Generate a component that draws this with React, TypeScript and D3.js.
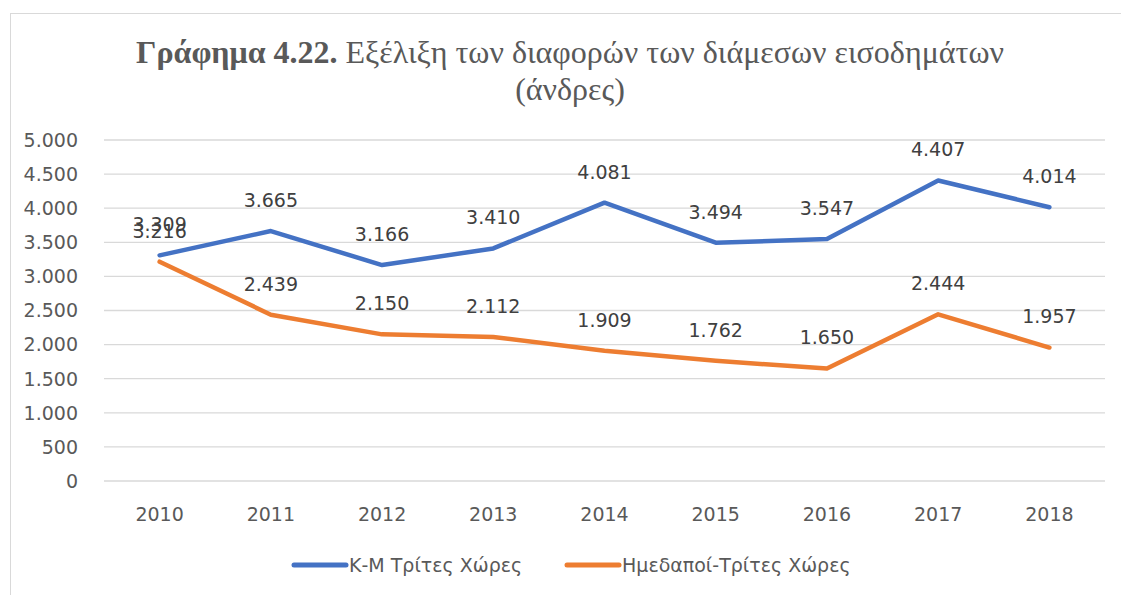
import React from "react";
import * as d3 from "d3";

const years = ["2010", "2011", "2012", "2013", "2014", "2015", "2016", "2017", "2018"];
const kmValues = [3309, 3665, 3166, 3410, 4081, 3494, 3547, 4407, 4014];
const domesticValues = [3216, 2439, 2150, 2112, 1909, 1762, 1650, 2444, 1957];
const yTicks = [0, 500, 1000, 1500, 2000, 2500, 3000, 3500, 4000, 4500, 5000];
const seriesNames = ["Κ-Μ Τρίτες Χώρες", "Ημεδαποί-Τρίτες Χώρες"];
const titleBold = "Γράφημα 4.22.";
const titleRest = " Εξέλιξη των διαφορών των διάμεσων εισοδημάτων";
const titleLine2 = "(άνδρες)";

const W = 1121;
const H = 595;
const plot = { left: 104, right: 1105, top: 140, bottom: 481 };
const colors = ["#4472C4", "#ED7D31"];
const textColor = "#595959";
const sans = "'DejaVu Sans', sans-serif";
const serif = "'Liberation Serif', 'Times New Roman', serif";

const fmt = (v: number) => d3.format(",")(v).replace(/,/g, ".");

export default function App() {
  const x = d3.scaleBand<string>().domain(years).range([plot.left, plot.right]);
  const y = d3.scaleLinear().domain([0, 5000]).range([plot.bottom, plot.top]);
  const cx = (d: string) => (x(d) as number) + x.bandwidth() / 2;
  const line = d3
    .line<number>()
    .x((_, i) => cx(years[i]))
    .y((v) => y(v));
  const series = [kmValues, domesticValues];

  return (
    <svg
      width={W}
      height={H}
      style={{ position: "absolute", left: 0, top: 0, background: "#fff" }}
    >
      <rect x={10.5} y={13.5} width={1300} height={800} fill="#fff" stroke="#D9D9D9" strokeWidth={1} />
      <text x={570} y={63} textAnchor="middle" fontFamily={serif} fontSize={32} fill={textColor}>
        <tspan fontWeight="bold">{titleBold}</tspan>
        <tspan>{titleRest}</tspan>
      </text>
      <text x={570} y={100} textAnchor="middle" fontFamily={serif} fontSize={32} fill={textColor}>
        {titleLine2}
      </text>
      {yTicks.map((t) => (
        <g key={t}>
          <line x1={plot.left} x2={plot.right} y1={y(t)} y2={y(t)} stroke="#D9D9D9" strokeWidth={1.3} />
          <text x={78} y={y(t)} dy="0.36em" textAnchor="end" fontFamily={sans} fontSize={19} fill={textColor}>
            {fmt(t)}
          </text>
        </g>
      ))}
      {years.map((yr) => (
        <text key={yr} x={cx(yr)} y={521} textAnchor="middle" fontFamily={sans} fontSize={19} fill={textColor}>
          {yr}
        </text>
      ))}
      {series.map((vals, si) => (
        <path
          key={si}
          d={line(vals) as string}
          fill="none"
          stroke={colors[si]}
          strokeWidth={4.5}
          strokeLinejoin="round"
          strokeLinecap="round"
        />
      ))}
      {series.map((vals, si) =>
        vals.map((v, i) => (
          <text
            key={`${si}-${i}`}
            x={cx(years[i])}
            y={y(v) - 31}
            dy="0.36em"
            textAnchor="middle"
            fontFamily={sans}
            fontSize={19}
            fill="#404040"
          >
            {fmt(v)}
          </text>
        ))
      )}
      {seriesNames.map((name, i) => {
        const lx = i === 0 ? 294 : 567;
        return (
          <g key={name}>
            <line x1={lx} x2={lx + 52} y1={565} y2={565} stroke={colors[i]} strokeWidth={5} strokeLinecap="round" />
            <text x={lx + 55} y={565} dy="0.36em" fontFamily={sans} fontSize={19} fill={textColor}>
              {name}
            </text>
          </g>
        );
      })}
    </svg>
  );
}
